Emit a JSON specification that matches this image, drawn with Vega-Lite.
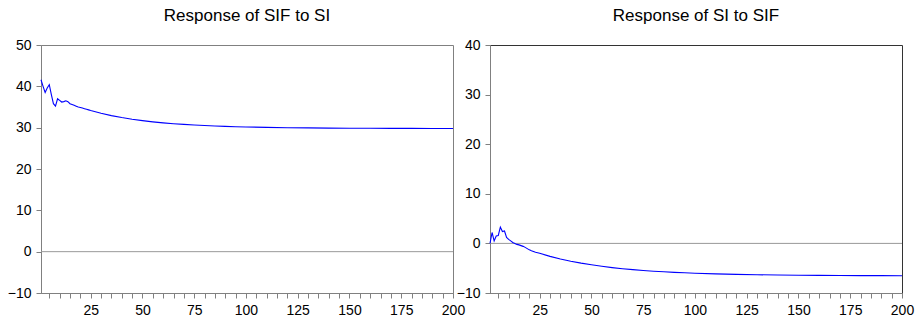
{
  "$schema": "https://vega.github.io/schema/vega-lite/v6.json",
  "padding": {"left": 6, "top": 6, "right": 8, "bottom": 6},
  "bounds": "flush",
  "spacing": 37,
  "config": {
    "font": "Liberation Sans",
    "view": {"stroke": "#808080", "strokeWidth": 1},
    "axis": {"labelFont": "Liberation Sans", "labelFontSize": 14, "labelColor": "#000", "domainColor": "#808080", "tickColor": "#808080", "tickSize": 5, "labelPadding": 5, "grid": false, "title": null},
    "title": {"fontSize": 17, "fontWeight": "normal", "font": "Liberation Sans", "offset": 13, "color": "#000"}
  },
  "datasets": {
    "sif": [
      {"t":1,"v":41.6},{"t":2,"v":40.0},{"t":3,"v":38.5},{"t":4,"v":39.6},{"t":5,"v":40.4},
      {"t":6,"v":38.0},{"t":7,"v":35.8},{"t":8,"v":35.2},{"t":9,"v":37.0},{"t":10,"v":36.6},
      {"t":11,"v":36.2},{"t":12,"v":36.3},{"t":13,"v":36.5},{"t":14,"v":36.3},{"t":15,"v":35.8},
      {"t":16,"v":35.6},{"t":17,"v":35.4},{"t":18,"v":35.2},{"t":19,"v":35.0},{"t":20,"v":34.9},
      {"t":21,"v":34.75},{"t":22,"v":34.6},{"t":23,"v":34.45},{"t":24,"v":34.3},{"t":25,"v":34.15},
      {"t":30,"v":33.47},{"t":35,"v":32.91},{"t":40,"v":32.44},{"t":45,"v":32.04},{"t":50,"v":31.70},
      {"t":55,"v":31.41},{"t":60,"v":31.17},{"t":65,"v":30.96},{"t":70,"v":30.79},{"t":75,"v":30.64},
      {"t":80,"v":30.51},{"t":85,"v":30.40},{"t":90,"v":30.31},{"t":95,"v":30.23},{"t":100,"v":30.17},
      {"t":110,"v":30.07},{"t":120,"v":29.99},{"t":130,"v":29.94},{"t":140,"v":29.90},{"t":150,"v":29.87},
      {"t":160,"v":29.85},{"t":170,"v":29.83},{"t":180,"v":29.82},{"t":190,"v":29.81},{"t":200,"v":29.80}
    ],
    "si": [
      {"t":1,"v":0.0},{"t":2,"v":2.2},{"t":3,"v":0.5},{"t":4,"v":1.5},{"t":5,"v":1.6},
      {"t":6,"v":3.3},{"t":7,"v":2.4},{"t":8,"v":2.5},{"t":9,"v":1.2},{"t":10,"v":0.8},
      {"t":11,"v":0.5},{"t":12,"v":0.2},{"t":13,"v":0.0},{"t":14,"v":-0.2},{"t":15,"v":-0.3},
      {"t":16,"v":-0.45},{"t":17,"v":-0.6},{"t":18,"v":-0.8},{"t":19,"v":-1.05},{"t":20,"v":-1.3},
      {"t":21,"v":-1.5},{"t":22,"v":-1.65},{"t":23,"v":-1.8},{"t":24,"v":-1.9},{"t":25,"v":-2.0},
      {"t":30,"v":-2.61},{"t":35,"v":-3.13},{"t":40,"v":-3.59},{"t":45,"v":-3.98},{"t":50,"v":-4.32},
      {"t":55,"v":-4.62},{"t":60,"v":-4.88},{"t":65,"v":-5.10},{"t":70,"v":-5.29},{"t":75,"v":-5.46},
      {"t":80,"v":-5.61},{"t":85,"v":-5.73},{"t":90,"v":-5.84},{"t":95,"v":-5.93},{"t":100,"v":-6.02},
      {"t":110,"v":-6.15},{"t":120,"v":-6.25},{"t":130,"v":-6.32},{"t":140,"v":-6.38},{"t":150,"v":-6.42},
      {"t":160,"v":-6.45},{"t":170,"v":-6.47},{"t":180,"v":-6.49},{"t":190,"v":-6.50},{"t":200,"v":-6.51}
    ]
  },
  "hconcat": [
    {
      "width": 412, "height": 248,
      "title": "Response of SIF to SI",
      "view": {"stroke": "#808080"},
      "layer": [
        {"data": {"values": [{"z": 0}]}, "mark": {"type": "rule", "color": "#999999", "strokeWidth": 1},
         "encoding": {"y": {"field": "z", "type": "quantitative"}}},
        {"data": {"name": "sif"}, "mark": {"type": "line", "color": "#0000ff", "strokeWidth": 1.1},
         "encoding": {
           "x": {"field": "t", "type": "quantitative", "scale": {"domain": [1, 200], "nice": false, "zero": false},
                 "axis": {"values": [5,10,15,20,25,30,35,40,45,50,55,60,65,70,75,80,85,90,95,100,105,110,115,120,125,130,135,140,145,150,155,160,165,170,175,180,185,190,195,200],
                          "labelExpr": "datum.value % 25 === 0 ? datum.label : ''", "labelOverlap": false, "labelFlush": false}},
           "y": {"field": "v", "type": "quantitative", "scale": {"domain": [-10, 50], "nice": false},
                 "axis": {"values": [-10, 0, 10, 20, 30, 40, 50]}}
         }}
      ]
    },
    {
      "width": 412, "height": 248,
      "title": "Response of SI to SIF",
      "view": {"stroke": "#333333"},
      "layer": [
        {"data": {"values": [{"z": 0}]}, "mark": {"type": "rule", "color": "#999999", "strokeWidth": 1},
         "encoding": {"y": {"field": "z", "type": "quantitative"}}},
        {"data": {"name": "si"}, "mark": {"type": "line", "color": "#0000ff", "strokeWidth": 1.1},
         "encoding": {
           "x": {"field": "t", "type": "quantitative", "scale": {"domain": [1, 200], "nice": false, "zero": false},
                 "axis": {"values": [5,10,15,20,25,30,35,40,45,50,55,60,65,70,75,80,85,90,95,100,105,110,115,120,125,130,135,140,145,150,155,160,165,170,175,180,185,190,195,200],
                          "labelExpr": "datum.value % 25 === 0 ? datum.label : ''", "labelOverlap": false, "labelFlush": false}},
           "y": {"field": "v", "type": "quantitative", "scale": {"domain": [-10, 40], "nice": false},
                 "axis": {"values": [-10, 0, 10, 20, 30, 40]}}
         }}
      ]
    }
  ]
}
